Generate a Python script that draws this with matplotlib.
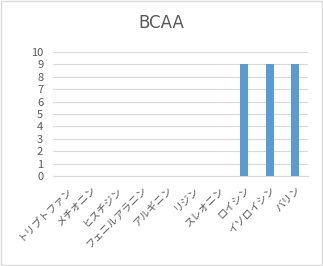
import numpy as np
import matplotlib
matplotlib.use('Agg')
import matplotlib.pyplot as plt
from matplotlib.patches import Rectangle
from matplotlib.transforms import ScaledTranslation

plt.rcParams['font.family'] = ['Noto Sans CJK JP', 'DejaVu Sans']

categories = ['トリプトファン', 'メチオニン', 'ヒスチジン', 'フェニルアラニン', 'アルギニン',
              'リジン', 'スレオニン', 'ロイシン', 'イソロイシン', 'バリン']
values = [0, 0, 0, 0, 0, 0, 0, 9, 9, 9]
yticks = list(range(0, 11))

txt = '#595959'
grid = '#d9d9d9'

fig = plt.figure(figsize=(3.23, 2.66), dpi=100)
fig.patches.append(Rectangle((0.002, 0.002), 0.996, 0.994, transform=fig.transFigure,
                             fill=False, edgecolor='#d9d9d9', linewidth=1))
# plot area in pixels: x 53..308, y 52..176 (from top)
ax = fig.add_axes([53/323, 1-176/266, 255/323, 124/266])

x = np.arange(len(categories))
ax.bar(x, values, width=0.31, color='#5b9bd5', zorder=3)
ax.set_xlim(-0.5, len(categories)-0.5)
ax.set_ylim(0, 10)
ax.set_yticks(yticks)
ax.yaxis.grid(True, color=grid, linewidth=0.8, zorder=0)
ax.set_xticks(x)
ax.set_xticklabels(categories, rotation=45, ha='right', va='top',
                   rotation_mode='anchor', fontsize=7.4, color=txt)
# nudge labels a little to the right, as in the original
off = ScaledTranslation(4/72, 0, fig.dpi_scale_trans)
for lab in ax.get_xticklabels():
    lab.set_transform(lab.get_transform() + off)
ax.tick_params(axis='y', labelsize=8, colors=txt, length=0, pad=7)
ax.tick_params(axis='x', length=0, pad=6)
for s in ['top', 'right', 'left']:
    ax.spines[s].set_visible(False)
ax.spines['bottom'].set_color(grid)
ax.spines['bottom'].set_linewidth(0.8)

fig.text(0.5, 1-23/266, 'BCAA', ha='center', va='center', fontsize=12,
         color=txt, family=['DejaVu Sans'])

fig.savefig('out.png', dpi=100)
